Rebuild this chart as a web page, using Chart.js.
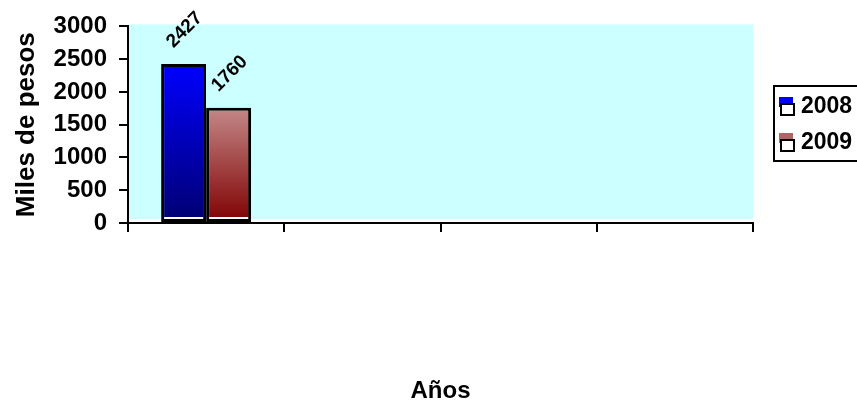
<!DOCTYPE html>
<html>
<head>
<meta charset="utf-8">
<script src="https://cdn.jsdelivr.net/npm/chart.js@4/dist/chart.umd.min.js"></script>
<style>
  html, body { margin: 0; padding: 0; background: #ffffff; }
  canvas { display: block; }
</style>
</head>
<body>
<canvas id="chart" width="857" height="403"></canvas>
<script>
// Category slots on the horizontal axis (unlabelled)
const categories = ['', '', '', ''];
// Series labels
const seriesNames = ['2008', '2009'];
// Values in thousands of pesos
const values2008 = [2427, null, null, null];
const values2009 = [1760, null, null, null];
// Value axis ticks
const yTicks = [0, 500, 1000, 1500, 2000, 2500, 3000];

const FONT = "'Liberation Sans', Arial, sans-serif";

// Vertical gradient spanning each bar from its top to the zero line
function barGradient(topColor, bottomColor) {
  return (ctx) => {
    const chart = ctx.chart;
    if (!chart.chartArea || ctx.type !== 'data') return bottomColor;
    const v = ctx.dataset.data[ctx.dataIndex];
    if (v == null) return bottomColor;
    const y = chart.scales.y;
    const g = chart.ctx.createLinearGradient(0, y.getPixelForValue(v), 0, y.getPixelForValue(0));
    g.addColorStop(0, topColor);
    g.addColorStop(1, bottomColor);
    return g;
  };
}

const swatchColors = ['#0000FF', '#B06464'];

// Light cyan plot background
const plotBackground = {
  id: 'plotBackground',
  beforeDraw(chart) {
    const { ctx, chartArea: a } = chart;
    ctx.save();
    ctx.fillStyle = '#CCFFFF';
    ctx.fillRect(a.left, a.top - 2, a.right - a.left, a.bottom - a.top - 2);
    ctx.restore();
  }
};

// Thin white band at the foot of each bar, then rotated value labels
const barExtras = {
  id: 'barExtras',
  afterDatasetsDraw(chart) {
    const { ctx } = chart;
    ctx.save();
    chart.data.datasets.forEach((ds, di) => {
      const meta = chart.getDatasetMeta(di);
      meta.data.forEach((el, i) => {
        const v = ds.data[i];
        if (v == null) return;
        const w = el.width;
        ctx.fillStyle = '#ffffff';
        ctx.fillRect(el.x - w / 2 + 3, el.base - 5, w - 6, 2);
        ctx.save();
        ctx.translate(el.x + 1, el.y - 34);
        ctx.rotate(-Math.PI / 4);
        ctx.fillStyle = '#000000';
        ctx.font = 'bold 19px ' + FONT;
        ctx.textAlign = 'center';
        ctx.textBaseline = 'middle';
        ctx.fillText(String(v), 0, 0);
        ctx.restore();
      });
    });
    ctx.restore();
  }
};

// Boxed legend at the right, partly running off the edge
const boxLegend = {
  id: 'boxLegend',
  afterDraw(chart) {
    const { ctx, chartArea: a } = chart;
    const left = a.right + 21;
    const top = 86;
    ctx.save();
    ctx.strokeStyle = '#000000';
    ctx.lineWidth = 2;
    ctx.strokeRect(left, top, 120, 75);
    chart.data.datasets.forEach((ds, i) => {
      const cy = top + 20 + i * 36;
      ctx.fillStyle = swatchColors[i];
      ctx.fillRect(left + 5, cy - 9, 14, 10);
      ctx.fillStyle = '#ffffff';
      ctx.fillRect(left + 7, cy - 1, 13, 10);
      ctx.strokeStyle = '#000000';
      ctx.lineWidth = 2;
      ctx.strokeRect(left + 7, cy - 2, 13, 11);
      ctx.fillStyle = '#000000';
      ctx.font = 'bold 23px ' + FONT;
      ctx.textAlign = 'left';
      ctx.textBaseline = 'middle';
      ctx.fillText(ds.label, left + 27, cy + 1);
    });
    ctx.restore();
  }
};

new Chart(document.getElementById('chart'), {
  type: 'bar',
  data: {
    labels: categories,
    datasets: [
      {
        label: seriesNames[0],
        data: values2008,
        backgroundColor: barGradient('#0000FF', '#000070'),
        borderColor: '#000000',
        borderWidth: 3,
        borderSkipped: false
      },
      {
        label: seriesNames[1],
        data: values2009,
        backgroundColor: barGradient('#C48888', '#7F0000'),
        borderColor: '#000000',
        borderWidth: 3,
        borderSkipped: false
      }
    ]
  },
  options: {
    responsive: false,
    animation: false,
    events: [],
    layout: { padding: { left: 0, right: 104, top: 24, bottom: 0 } },
    datasets: { bar: { categoryPercentage: 0.576, barPercentage: 1.0 } },
    plugins: {
      legend: { display: false },
      tooltip: { enabled: false }
    },
    scales: {
      x: {
        offset: true,
        grid: {
          offset: true,
          drawOnChartArea: false,
          drawTicks: true,
          tickLength: 9,
          color: '#000000',
          lineWidth: 2
        },
        border: { display: true, color: '#000000', width: 2 },
        ticks: { display: true, font: { family: FONT, size: 12 } },
        title: {
          display: true,
          text: 'Años',
          color: '#000000',
          font: { family: FONT, size: 24, weight: 'bold', lineHeight: 1 },
          padding: { top: 0, bottom: 0 }
        },
        afterFit(scale) { scale.height = 180; }
      },
      y: {
        min: yTicks[0],
        max: yTicks[yTicks.length - 1],
        afterBuildTicks(scale) { scale.ticks = yTicks.map(v => ({ value: v })); },
        grid: {
          drawOnChartArea: false,
          drawTicks: true,
          tickLength: 9,
          color: '#000000',
          lineWidth: 2
        },
        border: { display: true, color: '#000000', width: 2 },
        ticks: {
          color: '#000000',
          padding: 12,
          font: { family: FONT, size: 24, weight: 'bold' },
          callback: (v) => String(v)
        },
        title: {
          display: true,
          text: 'Miles de pesos',
          color: '#000000',
          font: { family: FONT, size: 26, weight: 'bold', lineHeight: 1 },
          padding: { top: 14, bottom: 0 }
        },
        afterFit(scale) { scale.width = 128; }
      }
    }
  },
  plugins: [plotBackground, barExtras, boxLegend]
});
</script>
</body>
</html>
